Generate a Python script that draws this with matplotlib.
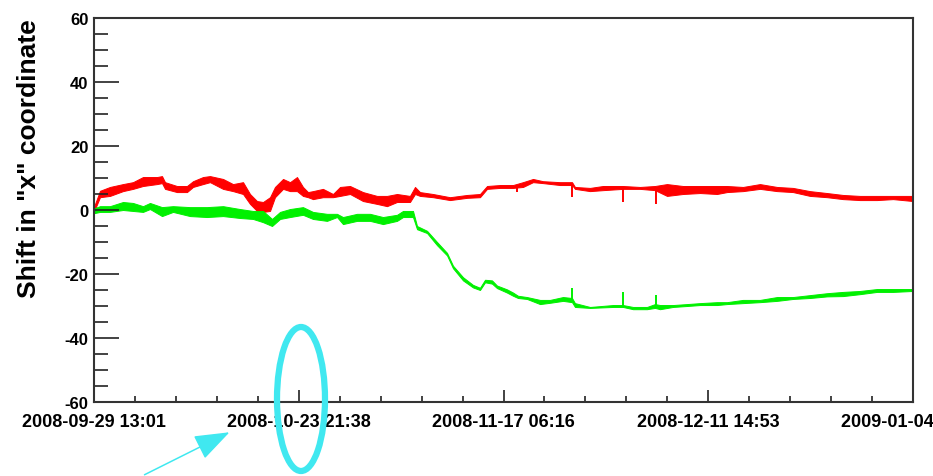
import numpy as np
import matplotlib
matplotlib.use("Agg")
import matplotlib.pyplot as plt
import matplotlib.dates as mdates
from matplotlib.ticker import FixedLocator, MultipleLocator, AutoMinorLocator
from matplotlib.patches import Ellipse, FancyArrowPatch
from datetime import datetime, timedelta

plt.rcParams['font.family'] = ['Liberation Sans', 'DejaVu Sans']
plt.rcParams['font.weight'] = 'bold'
plt.rcParams['axes.unicode_minus'] = False

# ---------------- data (days since start, shift values) ----------------
start = datetime(2008, 9, 29, 13, 1)
tick_labels = ["2008-09-29 13:01", "2008-10-23 21:38", "2008-11-17 06:16",
               "2008-12-11 14:53", "2009-01-04 23:30"]

red_days = [0, 0.71, 1.90, 3.45, 4.64, 5.83, 7.50, 8.09, 8.45, 9.87, 11.06, 11.78,
            12.97, 13.80, 15.35, 16.54, 17.73, 18.56, 19.39, 20.11, 20.94, 21.53,
            22.49, 23.32, 24.15, 24.86, 25.46, 26.05, 27.24, 28.43, 29.27, 30.46,
            32.00, 33.67, 34.86, 36.05, 37.59, 38.19, 38.78, 40.33, 42.35, 44.38,
            45.92, 46.76, 48.30, 49.85, 51.04, 52.23, 53.42, 55.44, 56.87, 57.22,
            59.01, 60.55, 62.93, 64.96, 66.74, 68.17, 70.07, 72.10, 74.12, 75.31,
            77.21, 79.23, 81.26, 83.16, 85.18, 87.21, 89.11, 91.13, 93.15, 95.06, 97.44]
red_lo = [-0.5, 4.0, 4.4, 5.9, 6.6, 7.5, 8.1, 8.4, 6.6, 5.6, 5.6, 7.2,
          8.1, 8.7, 6.6, 5.9, 5.0, 1.9, -0.3, -0.6, -0.3, 4.0,
          6.6, 5.9, 5.9, 4.4, 4.0, 3.4, 4.0, 4.0, 4.4, 5.0,
          2.8, 1.9, 1.2, 2.5, 2.5, 5.0, 4.4, 4.0, 3.1, 3.8,
          4.0, 6.6, 6.9, 6.9, 7.2, 8.7, 8.4, 7.8, 7.8, 6.6,
          5.9, 6.2, 6.6, 6.6, 6.2, 4.4, 5.0, 5.3, 5.0, 5.6,
          5.9, 6.6, 5.9, 5.6, 4.4, 4.0, 3.4, 3.1, 3.1, 3.4, 2.8]
red_hi = [1.0, 6.0, 7.2, 8.1, 8.7, 10.3, 10.3, 10.6, 8.7, 7.5, 7.5, 9.0,
          10.3, 10.6, 9.7, 8.1, 8.7, 5.0, 2.8, 2.5, 4.0, 7.2,
          9.7, 8.7, 10.3, 7.2, 5.6, 5.9, 6.6, 5.0, 7.2, 7.5,
          5.6, 4.4, 4.4, 5.0, 4.4, 7.2, 5.6, 5.0, 4.0, 4.7,
          5.0, 7.5, 7.8, 7.8, 8.7, 9.7, 9.0, 8.7, 8.7, 7.2,
          6.9, 7.5, 7.5, 7.2, 7.5, 8.1, 7.5, 7.5, 7.5, 7.5,
          7.2, 8.1, 7.2, 6.9, 5.9, 5.3, 4.7, 4.4, 4.4, 4.4, 4.4]
red_spike_days = [50.32, 56.90, 62.95, 66.90]
red_spike_vals = [5.6, 4.0, 2.5, 1.9]

green_days = [0, 0.71, 1.90, 3.45, 4.64, 5.83, 6.66, 8.09, 9.40, 11.42, 13.44, 15.35,
              17.37, 18.92, 20.11, 21.18, 22.13, 23.32, 24.86, 26.05, 27.72, 28.91,
              29.62, 31.29, 32.84, 34.38, 36.05, 36.76, 37.95, 38.43, 39.62, 40.81,
              42.00, 42.71, 43.90, 45.09, 45.92, 46.52, 47.35, 47.94, 49.13, 49.85,
              50.44, 51.51, 53.06, 54.25, 55.80, 56.87, 57.22, 59.01, 61.75, 62.93,
              64.13, 65.79, 66.74, 67.34, 68.88, 70.55, 72.10, 74.12, 75.31, 77.21,
              79.23, 81.26, 83.16, 85.18, 87.21, 89.11, 91.13, 93.15, 95.06, 97.44]
green_lo = [-1.0, -0.6, -0.6, 0.0, -0.3, -0.6, 0.3, -1.9, -0.6, -1.9, -2.2, -1.9,
            -2.5, -2.8, -3.8, -5.0, -2.8, -2.2, -1.5, -2.8, -3.4, -2.2,
            -4.4, -3.4, -3.4, -4.4, -3.4, -2.2, -2.2, -6.0, -7.2, -11.0,
            -14.2, -18.2, -22.0, -24.2, -25.0, -22.6, -23.0, -24.4, -25.8, -26.8,
            -27.5, -27.8, -29.4, -29.0, -28.4, -28.8, -30.3, -30.6, -30.3, -30.3,
            -31.0, -31.0, -30.6, -31.0, -30.3, -30.0, -29.7, -29.7, -29.4, -29.1,
            -28.8, -28.4, -27.8, -27.5, -27.0, -26.9, -26.3, -25.6, -25.6, -25.3]
green_hi = [0.5, 1.2, 1.2, 2.5, 2.2, 1.2, 2.2, 0.9, 1.2, 0.9, 0.9, 1.2,
            0.3, -0.3, -0.3, -2.8, -0.6, 0.3, 0.9, -0.6, -1.2, -1.2,
            -2.2, -1.2, -1.2, -2.2, -1.5, -0.3, -0.3, -5.0, -6.5, -10.0,
            -13.4, -17.4, -21.0, -23.4, -24.3, -21.8, -22.0, -23.6, -24.8, -25.8,
            -26.8, -27.2, -28.1, -28.1, -27.2, -27.5, -29.1, -30.3, -29.7, -29.7,
            -30.3, -30.3, -29.4, -29.7, -29.7, -29.4, -29.1, -28.8, -28.8, -28.1,
            -28.1, -27.2, -27.2, -26.6, -26.0, -25.6, -25.3, -24.7, -24.7, -24.7]
green_spike_days = [56.90, 62.95, 66.90]
green_spike_vals = [-24.4, -25.6, -26.5]


def to_dates(days):
    return mdates.date2num([start + timedelta(days=d) for d in days])


fig = plt.figure(figsize=(9.33, 4.77), dpi=100)
ax = fig.add_axes([94 / 933, 1 - 403 / 477, 819 / 933, 384 / 477])

for days, lo, hi, sd, sv, col in [
        (red_days, red_lo, red_hi, red_spike_days, red_spike_vals, '#ff0000'),
        (green_days, green_lo, green_hi, green_spike_days, green_spike_vals, '#00f000')]:
    xd = to_dates(days)
    ax.fill_between(xd, lo, hi, color=col, lw=0.7, edgecolor=col)
    base = np.interp(sd, days, np.add(lo, hi) / 2)
    ax.vlines(to_dates(sd), base, sv, color=col, lw=1.4)

tick_pos = mdates.date2num([datetime.strptime(t, "%Y-%m-%d %H:%M") for t in tick_labels])
ax.set_xlim(tick_pos[0], tick_pos[-1])
ax.set_ylim(-60, 60)
ax.xaxis.set_major_locator(FixedLocator(tick_pos))
ax.set_xticklabels(tick_labels)
ax.xaxis.set_minor_locator(AutoMinorLocator(5))
ax.yaxis.set_major_locator(MultipleLocator(20))
ax.yaxis.set_minor_locator(MultipleLocator(5))

ax.tick_params(axis='x', which='major', direction='in', length=9, width=1.2,
               labelsize=13, pad=8, color='#222222')
ax.tick_params(axis='x', which='minor', direction='in', length=4, width=1.2, color='#222222')
ax.tick_params(axis='y', which='major', direction='in', length=18, width=1.2,
               labelsize=12, pad=4, color='#222222')
ax.tick_params(axis='y', which='minor', direction='in', length=10, width=1.2, color='#222222')
for lab in ax.get_xticklabels() + ax.get_yticklabels():
    lab.set_fontweight('bold')
for s in ax.spines.values():
    s.set_linewidth(1.5)
    s.set_color('#333333')

ax.set_ylabel('Shift in "x" coordinate', fontsize=19, fontweight='bold', loc='top')
ax.yaxis.set_label_coords(-53 / 819, 1.0)

# cyan annotations
cyan = '#40e8f0'
fig.add_artist(Ellipse((301 / 933, 1 - 400 / 477), 48 / 933, 144 / 477,
                       transform=fig.transFigure, fill=False, ec=cyan, lw=4.5))
fig.add_artist(FancyArrowPatch((142 / 933, 0.0), (232 / 933, 1 - 432 / 477),
                               transform=fig.transFigure, color=cyan, lw=1.1,
                               arrowstyle='-|>,head_length=2.2,head_width=0.8',
                               mutation_scale=10))

fig.savefig('out.png', dpi=100)
